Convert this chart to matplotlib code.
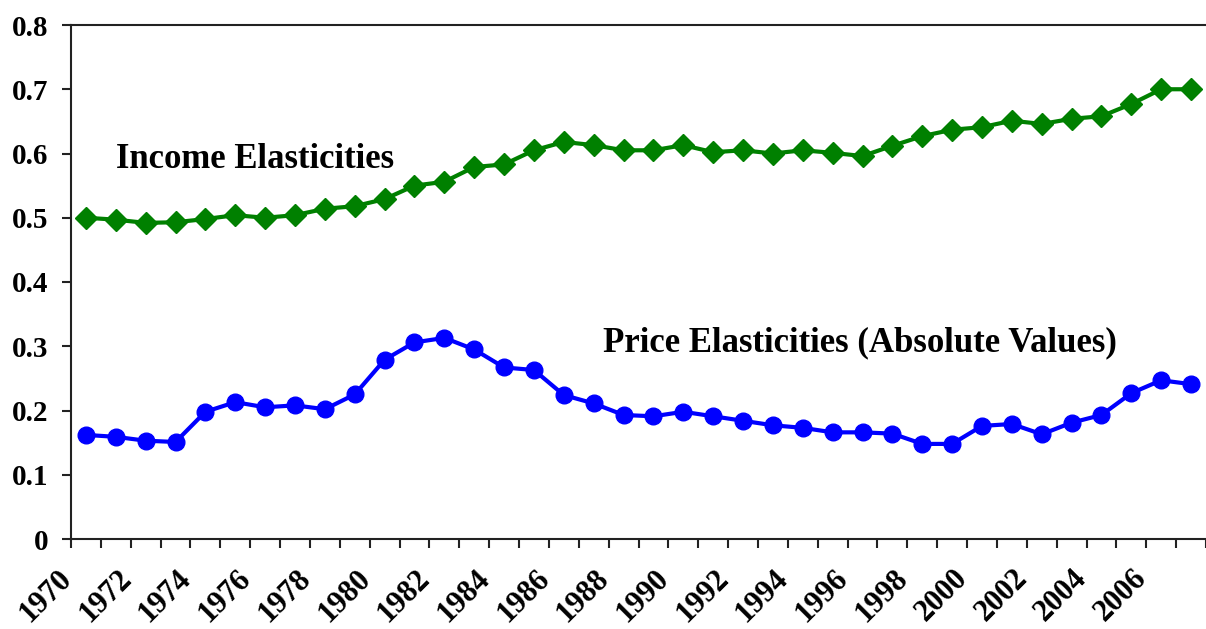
import matplotlib.pyplot as plt
from matplotlib.transforms import ScaledTranslation

years = list(range(1970, 2008))

income = [0.500, 0.497, 0.492, 0.493, 0.498, 0.504, 0.500, 0.504, 0.514, 0.518,
          0.529, 0.550, 0.556, 0.579, 0.583, 0.605, 0.618, 0.613, 0.605, 0.605,
          0.613, 0.602, 0.605, 0.600, 0.605, 0.601, 0.596, 0.612, 0.627, 0.637,
          0.641, 0.651, 0.646, 0.654, 0.658, 0.677, 0.700, 0.700]

price = [0.162, 0.159, 0.153, 0.151, 0.198, 0.213, 0.205, 0.208, 0.202, 0.225,
         0.279, 0.306, 0.313, 0.295, 0.267, 0.263, 0.224, 0.211, 0.193, 0.191,
         0.198, 0.191, 0.184, 0.177, 0.173, 0.166, 0.166, 0.164, 0.148, 0.148,
         0.176, 0.179, 0.163, 0.181, 0.193, 0.227, 0.247, 0.241]

yticks = [0, 0.1, 0.2, 0.3, 0.4, 0.5, 0.6, 0.7, 0.8]
ytick_labels = ['0', '0.1', '0.2', '0.3', '0.4', '0.5', '0.6', '0.7', '0.8']

plt.rcParams['font.family'] = 'Liberation Serif'
plt.rcParams['font.weight'] = 'bold'

fig = plt.figure(figsize=(12.06, 6.29), dpi=100)
ax = fig.add_axes([71 / 1206, 1 - 539 / 629, 1 - 71 / 1206, (539 - 25) / 629])

x = list(range(len(years)))
ax.plot(x, income, color='#008000', lw=3, marker='D', ms=11)
ax.plot(x, price, color='#0000FF', lw=3, marker='o', ms=12)

ax.text(1.0, 0.59, 'Income Elasticities', fontsize=25, fontweight='bold', va='center')
ax.text(17.3, 0.305, 'Price Elasticities (Absolute Values)', fontsize=25,
        fontweight='bold', va='center')

# category axis: ticks on boundaries, labels every other year (drawn as texts)
ax.set_xlim(-0.5, len(years) - 0.5)
ticks = [k - 0.5 for k in range(len(years) + 1)]
ax.set_xticks(ticks)
ax.set_xticklabels([])
lab_trans = ax.get_xaxis_transform() + ScaledTranslation(-14 / 100, -25 / 100, fig.dpi_scale_trans)
for k in range(0, len(years), 2):
    ax.text(k - 0.5, 0, str(years[k]), transform=lab_trans, rotation=45,
            ha='right', va='top', rotation_mode='anchor', fontsize=22, clip_on=False)

ax.set_ylim(0, 0.8)
ax.set_yticks(yticks)
ax.set_yticklabels(ytick_labels, fontsize=21)

ax.tick_params(direction='out', length=6.5, width=1.5, color='#222222')
ax.tick_params(axis='y', pad=10)
for side in ['left', 'bottom', 'top']:
    ax.spines[side].set_linewidth(1.5)
    ax.spines[side].set_color('#222222')
ax.spines['right'].set_visible(False)

fig.savefig('out.png', dpi=100)
